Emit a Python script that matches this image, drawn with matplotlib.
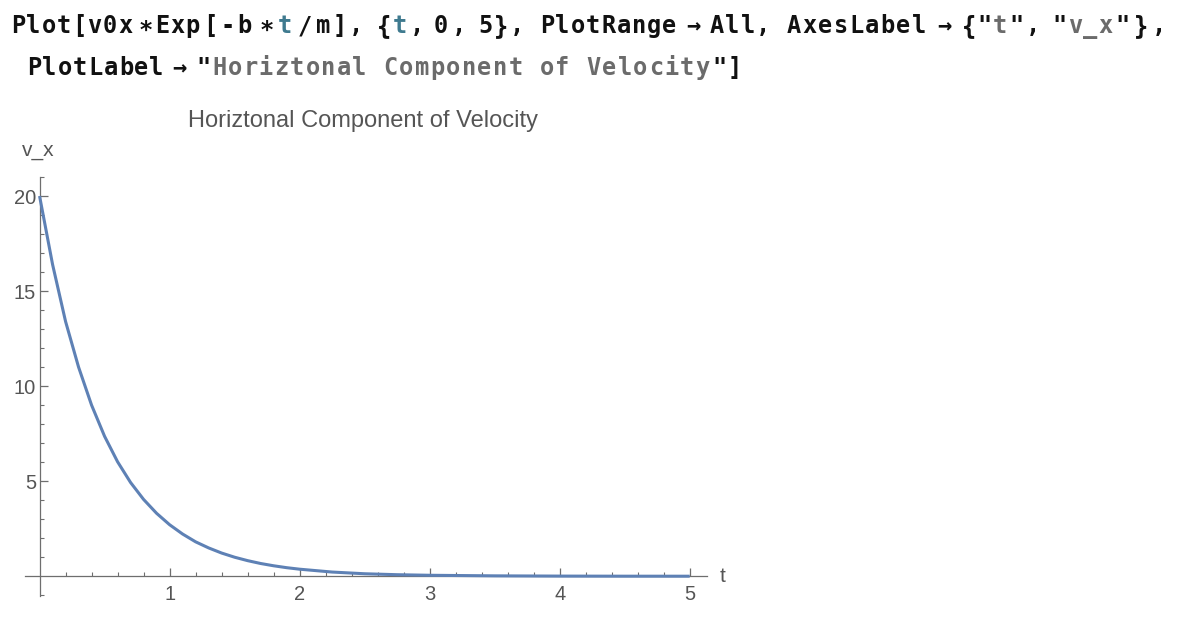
import matplotlib
matplotlib.use("Agg")
import matplotlib.pyplot as plt

#values (v_x against t)
t_vals = [0, 0.1, 0.2, 0.3, 0.4, 0.5, 0.6, 0.7, 0.8, 0.9, 1.0, 1.1, 1.2, 1.3, 1.4,
          1.5, 1.6, 1.7, 1.8, 1.9, 2.0, 2.25, 2.5, 2.75, 3.0, 3.5, 4.0, 4.5, 5.0]
vx_vals = [20.0, 16.4, 13.4, 11.0, 9.0, 7.36, 6.02, 4.93, 4.04, 3.31, 2.71, 2.22, 1.81, 1.49, 1.22,
           1.0, 0.82, 0.67, 0.55, 0.45, 0.37, 0.22, 0.13, 0.08, 0.05, 0.02, 0.007, 0.002, 0.001]

x_major = [1, 2, 3, 4, 5]
y_major = [5, 10, 15, 20]
x_minor = [0.2, 0.4, 0.6, 0.8, 1.2, 1.4, 1.6, 1.8, 2.2, 2.4, 2.6, 2.8, 3.2, 3.4, 3.6, 3.8,
           4.2, 4.4, 4.6, 4.8]
y_minor = [-1, 1, 2, 3, 4, 6, 7, 8, 9, 11, 12, 13, 14, 16, 17, 18, 19, 21]

title = "Horiztonal Component of Velocity"

W, H = 1194, 630
fig = plt.figure(figsize=(W / 100, H / 100), dpi=100)
fig.patch.set_facecolor("white")

#notebook input cell, drawn one character at a time so the pitch matches
BLACK = "#111111"
TEAL = "#3f7a8f"
GRAY = "#6b6b6b"


def code(x, y, s, color, pitch=15.3):
    for i, ch in enumerate(s):
        if ch == " ":
            continue
        fig.text((x + i * pitch) / W, 1 - y / H, ch, color=color, fontsize=17,
                 fontweight="bold", va="baseline", ha="left",
                 family=["DejaVu Sans Mono", "DejaVu Sans"])


line1 = [(11, "Plot[v0x", BLACK), (139, "∗", BLACK), (155, "Exp", BLACK), (203, "[", BLACK),
         (220, "-", BLACK), (237, "b", BLACK), (260, "∗", BLACK), (278, "t", TEAL),
         (298, "/", BLACK), (316, "m", BLACK), (333, "]", BLACK), (349, ",", BLACK),
         (377, "{", BLACK), (393, "t", TEAL), (410, ",", BLACK), (434, "0", BLACK),
         (452, ",", BLACK), (478, "5", BLACK), (494, "}", BLACK), (510, ",", BLACK),
         (540, "PlotRange", BLACK), (686, "→", BLACK), (710, "All", BLACK), (756, ",", BLACK),
         (962, "{", BLACK), (977, '"', BLACK), (993, "t", GRAY), (1009, '"', BLACK),
         (1026, ",", BLACK), (1052, '"', BLACK), (1068, "v_x", GRAY), (1115, '"', BLACK),
         (1134, "}", BLACK), (1152, ",", BLACK)]
for x, s, c in line1:
    code(x, 33, s, c)
code(787, 33, "AxesLabel", BLACK, pitch=15.6)
code(937, 33, "→", BLACK)

code(27, 75, "PlotLabel", BLACK)
code(172, 75, "→", BLACK)
code(196, 75, '"', BLACK)
code(212, 75, title, GRAY, pitch=15.6)
code(712, 75, '"]', BLACK, pitch=15.6)

#plot area
AX_GRAY = "#6e6e6e"
LBL_GRAY = "#555555"
ax = fig.add_axes([25 / W, (H - 596) / H, (707 - 25) / W, (596 - 177) / H])
ax.plot(t_vals, vx_vals, color="#5e81b5", lw=2.2, zorder=3, solid_capstyle="butt")
ax.set_xlim(-0.112, 5.133)
ax.set_ylim(-1.04, 21.0)

ax.spines["left"].set_position(("data", 0))
ax.spines["bottom"].set_position(("data", 0))
ax.spines["right"].set_visible(False)
ax.spines["top"].set_visible(False)
for sp in ["left", "bottom"]:
    ax.spines[sp].set_color(AX_GRAY)
    ax.spines[sp].set_linewidth(0.9)

ax.set_xticks(x_major)
ax.set_xticks(x_minor, minor=True)
ax.set_yticks(y_major)
ax.set_yticks(y_minor, minor=True)
ax.tick_params(which="major", direction="in", length=5.5, width=0.9, color=AX_GRAY,
               labelcolor=LBL_GRAY, labelsize=14.5)
ax.tick_params(which="minor", direction="in", length=3.2, width=0.8, color=AX_GRAY)
ax.tick_params(axis="x", which="major", pad=6)
ax.tick_params(axis="y", which="major", pad=2.5)
for lab in ax.get_xticklabels() + ax.get_yticklabels():
    lab.set_family("Liberation Sans")
ax.patch.set_alpha(0)

#axes labels and plot label as in the notebook output
fig.text(38 / W, 1 - 156 / H, "v_x", color=LBL_GRAY, fontsize=15, ha="center",
         va="baseline", family="Liberation Sans")
fig.text(720 / W, 1 - 582 / H, "t", color=LBL_GRAY, fontsize=15, ha="left",
         va="baseline", family="Liberation Sans")
fig.text(363 / W, 1 - 127 / H, title, color=LBL_GRAY, fontsize=17, ha="center",
         va="baseline", family="Liberation Sans")

fig.savefig("out.png", dpi=100)
